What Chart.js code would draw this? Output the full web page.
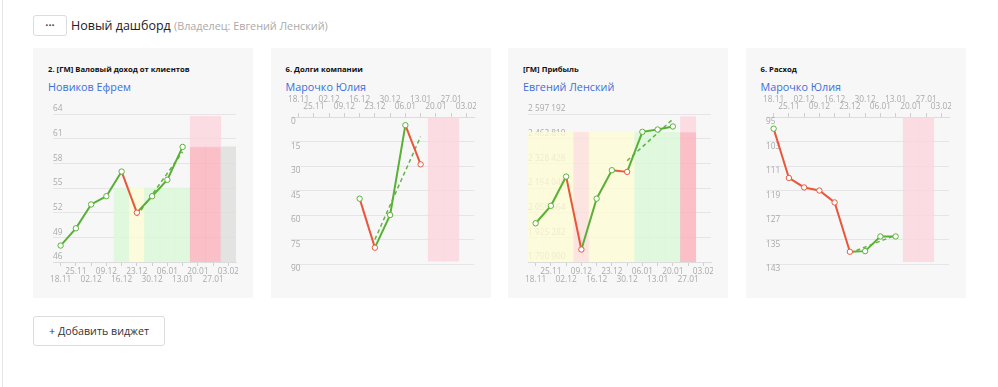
<!DOCTYPE html>
<html><head><meta charset="utf-8">
<script src="https://cdn.jsdelivr.net/npm/chart.js@4/dist/chart.umd.min.js"></script>
<style>
html,body{margin:0;padding:0;background:#fff;width:998px;height:387px;overflow:hidden;font-family:"Open Sans",sans-serif;}
.edge{position:absolute;left:2px;top:0;width:1px;height:387px;background:#e6e6e6;}
.dots{position:absolute;left:33px;top:15px;width:32px;height:19px;border:1px solid #dcdcdc;border-radius:3px;background:#fff;font-size:11px;font-weight:700;line-height:17px;text-align:center;color:#444;}
.title{position:absolute;left:71px;top:17px;font-size:12.5px;line-height:18px;color:#222;white-space:nowrap;}
.title span{font-size:10.8px;color:#aaa;}
.card{position:absolute;top:48px;width:220px;height:250px;background:#f7f7f8;}
.ct{position:absolute;left:15px;top:16px;font-size:7.7px;line-height:11px;font-weight:700;color:#111;white-space:nowrap;}
.cn{position:absolute;left:15px;top:31px;font-size:10.8px;line-height:16px;color:#3d6fd6;white-space:nowrap;}
.clip{position:absolute;left:15px;width:190px;height:190px;overflow:hidden;}
.wrap{position:relative;width:193px;height:190px;}
.add{position:absolute;left:33px;top:316px;width:130px;height:28px;border:1px solid #dcdcdc;border-radius:3px;background:#fff;font-size:10.7px;line-height:28px;text-align:center;color:#333;}
</style>
</head><body>
<div class="edge"></div>
<div class="dots">···</div>
<div class="title">Новый дашборд <span>(Владелец: Евгений Ленский)</span></div>

<div class="card" style="left:33px"><div class="ct">2. [ГМ] Валовый доход от клиентов</div><div class="cn">Новиков Ефрем</div>
<div class="clip" style="top:52px"><div class="wrap"><canvas id="c1"></canvas></div></div></div>
<div class="card" style="left:270.5px"><div class="ct">6. Долги компании</div><div class="cn">Марочко Юлия</div>
<div class="clip" style="top:42px"><div class="wrap"><canvas id="c2"></canvas></div></div></div>
<div class="card" style="left:508px"><div class="ct">[ГМ] Прибыль</div><div class="cn">Евгений Ленский</div>
<div class="clip" style="top:52px"><div class="wrap"><canvas id="c3"></canvas></div></div></div>
<div class="card" style="left:745.5px"><div class="ct">6. Расход</div><div class="cn">Марочко Юлия</div>
<div class="clip" style="top:42px"><div class="wrap"><canvas id="c4"></canvas></div></div></div>

<div class="add">+ Добавить виджет</div>

<script>
const dates = ['18.11','25.11','02.12','09.12','16.12','23.12','30.12','06.01','13.01','20.01','27.01','03.02'];

// 1. Валовый доход от клиентов
const c1Values = [48, 50.1, 53, 54, 57, 52, 54, 56, 60, null, null, null];
const c1Trend  = [null, null, null, null, null, 51.6, null, null, 59.4, null, null, null];
const c1Zone   = [null, null, null, null, 55, 55, 55, 55, 55, 60, 60, 60];
const c1ZoneStatus = ['', '', '', '', 'good', 'warn', 'good', 'good', 'good', 'bad', 'bad', 'none'];
const c1Cap    = [null, null, null, null, null, null, null, null, null, 63.7, 63.7, null];
const c1YTicks = [46, 49, 52, 55, 58, 61, 64];

// 2. Долги компании
const c2Values = [null, null, null, null, 50, 80, 60, 5, 29, null, null, null];
const c2Trend  = [null, null, null, null, null, 75, null, null, 12, null, null, null];
const c2Zone   = [null, null, null, null, null, null, null, null, null, 88.3, 88.3, null];
const c2ZoneStatus = ['', '', '', '', '', '', '', '', '', 'plan', 'plan', ''];
const c2Cap    = [null, null, null, null, null, null, null, null, null, null, null, null];
const c2YTicks = [0, 15, 30, 45, 60, 75, 90];

// 3. Прибыль
const c3Values = [2002000, 2097000, 2256300, 1859000, 2136000, 2291000, 2281900, 2500100, 2512800, 2529200, null, null];
const c3Trend  = [null, null, null, null, null, null, 2342800, null, null, 2569200, null, null];
const c3Zone   = [2497700, 2497700, 2497700, 2497700, 2497700, 2497700, 2497700, 2497700, 2497700, 2497700, 2497700, null];
const c3ZoneStatus = ['warn', 'warn', 'warn', 'soft', 'warn', 'warn', 'warn', 'good', 'good', 'good', 'bad', ''];
const c3Cap    = [null, null, null, null, null, null, null, null, null, null, 2582500, null];
const c3YTicks = [1790900, 1925282, 2059664, 2194046, 2328428, 2462810, 2597192];

// 4. Расход
const c4Values = [98.8, 114.9, 118, 119, 122.9, 139, 138.8, 134, 134, null, null, null];
const c4Trend  = [null, null, null, null, null, 139.4, null, null, 133.6, null, null, null];
const c4Zone   = [null, null, null, null, null, null, null, null, null, 142.2, 142.2, null];
const c4ZoneStatus = ['', '', '', '', '', '', '', '', '', 'plan', 'plan', ''];
const c4Cap    = [null, null, null, null, null, null, null, null, null, null, null, null];
const c4YTicks = [95, 103, 111, 119, 127, 135, 143];

const GREEN = '#58b136', RED = '#e8573a', TREND = '#62b545';
const ZONE_COLORS = {
  good:'rgba(217,247,214,0.8)', warn:'rgba(253,251,212,0.8)', bad:'rgba(250,176,186,0.8)',
  none:'rgba(221,221,220,0.8)', plan:'rgba(252,213,221,0.8)', soft:'rgba(253,222,217,0.8)', '':'rgba(0,0,0,0)'
};
const CAP_COLOR = 'rgba(252,213,221,0.8)';
const TICK_COLOR = '#aaaaaa';

function spaced(v){ return String(Math.round(v)).replace(/\B(?=(\d{3})+(?!\d))/g, ' '); }

function makeChart(id, cfg){
  const {values, trend, zone, zoneStatus, cap, yTicks, reverse, xTop, higherBetter} = cfg;
  const yMin = Math.min(...yTicks), yMax = Math.max(...yTicks);
  const status = values.map((v, i) => {
    if (v == null) return null;
    let p = null;
    for (let j = i - 1; j >= 0; j--) if (values[j] != null) { p = values[j]; break; }
    if (p == null) return 'good';
    return (higherBetter ? v < p : v > p) ? 'bad' : 'good';
  });
  const font = {family:'Open Sans', size:8.3, lineHeight:0.95};
  const yBase = {
    min: yMin, max: yMax, reverse: !!reverse, position: 'left',
    afterBuildTicks: s => { s.ticks = yTicks.map(v => ({value: v})); },
    border: {display:false},
    afterFit: s => { s.width = 0; s.paddingTop = 0; s.paddingBottom = 0; }
  };
  new Chart(document.getElementById(id), {
    type: 'bar',
    data: {
      labels: dates,
      datasets: [
        {type:'line', data: values, borderColor: GREEN, borderWidth: 2, tension: 0,
         segment: {borderColor: ctx => status[ctx.p1DataIndex] === 'bad' ? RED : GREEN},
         pointRadius: 2.7, pointBorderWidth: 1, pointBackgroundColor: '#fff',
         pointBorderColor: status.map(s => s === 'bad' ? RED : GREEN), order: 0, clip: false},
        {type:'line', data: trend, spanGaps: true, borderColor: TREND, borderWidth: 1.5,
         borderDash: [4, 3], pointRadius: 0, order: 1},
        {type:'bar', data: cap.map((v, i) => v == null ? null : [zone[i], v]), backgroundColor: CAP_COLOR,
         barPercentage: 1, categoryPercentage: 1, grouped: false, borderWidth: 0, order: 2},
        {type:'bar', data: zone.map(v => v == null ? null : [yMin, v]),
         backgroundColor: zoneStatus.map(s => ZONE_COLORS[s]),
         barPercentage: 1, categoryPercentage: 1, grouped: false, borderWidth: 0, order: 3}
      ]
    },
    options: {
      responsive: true, maintainAspectRatio: false, animation: false,
      layout: {padding: xTop ? {top:0, bottom:16, left:0, right:0} : {top:14, bottom:0, left:0, right:0}},
      plugins: {legend: {display:false}, tooltip: {enabled:false}},
      scales: {
        x: {
          type: 'category', position: xTop ? 'top' : 'bottom', offset: true,
          grid: {display:true, drawOnChartArea:false, drawTicks:true, tickLength:4, tickColor:'#cfcfcf', offset:false},
          border: {display:true, color:'#dcdcdc'},
          ticks: {autoSkip:false, maxRotation:0, minRotation:0, padding:2, color:TICK_COLOR, font,
            callback: (v, i) => i % 2 === 0 ? (xTop ? [dates[i], ''] : ['', dates[i]]) : dates[i]},
          afterFit: s => { s.height = xTop ? 27 : 28; s.paddingLeft = 0; s.paddingRight = 0; }
        },
        y: Object.assign({}, yBase, {
          grid: {color:'#e5e5e8', drawTicks:false, lineWidth:1},
          ticks: {display:false}
        }),
        yLabels: Object.assign({}, yBase, {
          z: 1,
          grid: {display:false},
          ticks: {mirror:true, padding:0, labelOffset: xTop ? 5 : -5, color:TICK_COLOR, font,
            callback: v => spaced(v)}
        })
      }
    }
  });
}

makeChart('c1', {values:c1Values, trend:c1Trend, zone:c1Zone, zoneStatus:c1ZoneStatus, cap:c1Cap, yTicks:c1YTicks, reverse:false, xTop:false, higherBetter:true});
makeChart('c2', {values:c2Values, trend:c2Trend, zone:c2Zone, zoneStatus:c2ZoneStatus, cap:c2Cap, yTicks:c2YTicks, reverse:true, xTop:true, higherBetter:false});
makeChart('c3', {values:c3Values, trend:c3Trend, zone:c3Zone, zoneStatus:c3ZoneStatus, cap:c3Cap, yTicks:c3YTicks, reverse:false, xTop:false, higherBetter:true});
makeChart('c4', {values:c4Values, trend:c4Trend, zone:c4Zone, zoneStatus:c4ZoneStatus, cap:c4Cap, yTicks:c4YTicks, reverse:true, xTop:true, higherBetter:false});
</script>
</body></html>
